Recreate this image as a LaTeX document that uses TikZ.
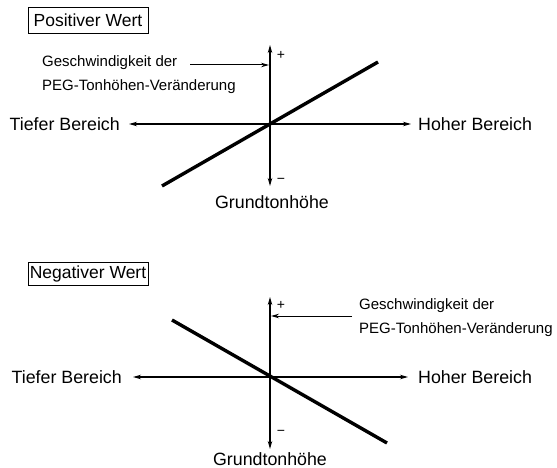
\documentclass[tikz,border=0pt]{standalone}
\usepackage{fontspec}
\setmainfont{Liberation Sans}
\usetikzlibrary{arrows.meta}
\begin{document}
\begin{tikzpicture}[x=1pt,y=-1pt,
  axis/.style={line width=1.1pt,-{Stealth[length=8pt,width=4.5pt]}},
  curve/.style={line width=3.4pt},
  pointer/.style={line width=1pt,-{Stealth[length=8pt,width=4.5pt]}},
  rangelabel/.style={font=\fontsize{17.8}{20}\selectfont,inner sep=0pt},
  speedlabel/.style={font=\fontsize{15}{24.5}\selectfont,align=left,inner sep=0pt,anchor=north west},
  signlabel/.style={font=\fontsize{14}{16}\selectfont,inner sep=0pt},
  modebox/.style={draw,line width=0.8pt,font=\fontsize{17.5}{19}\selectfont,inner sep=0pt,minimum width=120pt}]
\useasboundingbox (0,0) rectangle (557,468);

% ---------- positive value ----------
\node[modebox,minimum height=26pt] (posbox) at (88,20) {Positiver Wert};
\coordinate (O1) at (270,124);
\coordinate (L1) at (129,124);
\coordinate (R1) at (411,124);
\coordinate (T1) at (270,45);
\coordinate (B1) at (270,186);
\coordinate (P1a) at (162,186);
\coordinate (P1b) at (378,62);
\coordinate (A1) at (269,65);
\draw[axis] (O1) -- (L1);
\draw[axis] (O1) -- (R1);
\draw[axis] (O1) -- (T1);
\draw[axis] (O1) -- (B1);
\draw[curve] (P1a) -- (P1b);
\node[signlabel] (plus1) at (281,55) {+};
\node[signlabel] (minus1) at (281,181) {\textminus};
\node[rangelabel,anchor=east] (low1) at (120,124) {Tiefer Bereich};
\node[rangelabel,anchor=west] (high1) at (418,124) {Hoher Bereich};
\node[rangelabel,anchor=base] (base1) at (272,208) {Grundtonhöhe};
\node[speedlabel] (speed1) at (42,55) {Geschwindigkeit der\\PEG-Tonhöhen-Veränderung};
\coordinate (S1) at (190,65);
\draw[pointer] (S1) -- (A1);

% ---------- negative value ----------
\node[modebox,minimum height=23pt] (negbox) at (88,274) {Negativer Wert};
\coordinate (O2) at (270,377);
\coordinate (L2) at (133,377);
\coordinate (R2) at (408,377);
\coordinate (T2) at (270,297);
\coordinate (B2) at (270,449);
\coordinate (P2a) at (172,320);
\coordinate (P2b) at (387,443);
\coordinate (A2) at (271,316);
\draw[axis] (O2) -- (L2);
\draw[axis] (O2) -- (R2);
\draw[axis] (O2) -- (T2);
\draw[axis] (O2) -- (B2);
\draw[curve] (P2a) -- (P2b);
\node[signlabel] (plus2) at (281,305) {+};
\node[signlabel] (minus2) at (281,433) {\textminus};
\node[rangelabel,anchor=east] (low2) at (122,377) {Tiefer Bereich};
\node[rangelabel,anchor=west] (high2) at (418,377) {Hoher Bereich};
\node[rangelabel,anchor=base] (base2) at (270,465) {Grundtonhöhe};
\node[speedlabel] (speed2) at (359,298) {Geschwindigkeit der\\PEG-Tonhöhen-Veränderung};
\coordinate (S2) at (352,316);
\draw[pointer] (S2) -- (A2);
\end{tikzpicture}
\end{document}
